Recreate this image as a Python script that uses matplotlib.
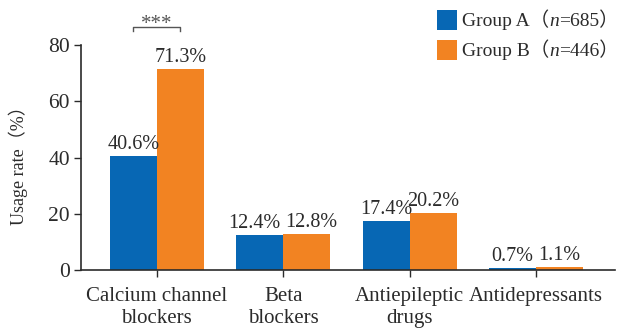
import matplotlib
matplotlib.use("Agg")
import matplotlib.pyplot as plt
import numpy as np
from matplotlib.offsetbox import HPacker, TextArea, DrawingArea, AnchoredOffsetbox
from matplotlib.patches import Rectangle

categories = ["Calcium channel\nblockers", "Beta\nblockers", "Antiepileptic\ndrugs", "Antidepressants"]
group_a = [40.6, 12.4, 17.4, 0.7]
group_b = [71.3, 12.8, 20.2, 1.1]
series_names = ["Group A", "Group B"]
series_n = [685, 446]
yticks = [0, 20, 40, 60, 80]
sig_label = "***"

FAM = ["Liberation Serif", "Noto Sans CJK SC"]
plt.rcParams["font.family"] = FAM
TXT = "#2b2b2b"
BLUE = "#0767B4"
ORANGE = "#F28322"

fig = plt.figure(figsize=(6.26, 3.33), dpi=100)
ax = fig.add_axes([0.1294, 0.189, 0.853, 0.676])

x = np.arange(len(categories))
w = 0.372
ba = ax.bar(x - w / 2, group_a, w, color=BLUE)
bb = ax.bar(x + w / 2, group_b, w, color=ORANGE)

# labels of neighbouring bars with nearly equal heights get nudged apart slightly
for si, (bars, vals, other) in enumerate(((ba, group_a, group_b), (bb, group_b, group_a))):
    for r, v, o in zip(bars, vals, other):
        dx = 0.0
        if abs(v - o) < 1.5 and v > 5:
            dx = -4.0 if si == 0 else 3.5
        ax.annotate(f"{v:.1f}%", xy=(r.get_x() + r.get_width() / 2, v), xytext=(dx, 1.5),
                    textcoords="offset points", ha="center", va="bottom",
                    fontsize=14.5, color=TXT, annotation_clip=False)

ax.set_xlim(-0.6, len(categories) - 1 + 0.625)
ax.set_ylim(0, 80)
ax.set_yticks(yticks)
ax.set_xticks(x)
ax.set_xticklabels(categories, fontsize=15, color=TXT, linespacing=1.2)
ax.tick_params(axis="y", labelsize=15.5, colors=TXT, length=5, width=1, pad=3)
ax.tick_params(axis="x", colors=TXT, length=5, width=1, pad=7)
for s in ("top", "right"):
    ax.spines[s].set_visible(False)
for s in ("left", "bottom"):
    ax.spines[s].set_color(TXT)
    ax.spines[s].set_linewidth(1.2)

ax.set_ylabel("Usage rate（%）", fontsize=13, color=TXT)
ax.yaxis.set_label_coords(-0.099, 0.484)

# significance bracket
x0, x1 = x[0] - w / 2, x[0] + w / 2
ax.plot([x0, x0, x1, x1], [85.0, 86.5, 86.5, 85.0], color="#555555", lw=1, clip_on=False)
ax.text((x0 + x1) / 2, 85.8, sig_label, ha="center", va="baseline", fontsize=15, color="#555555", clip_on=False)

# legend (manual, with italic n)
for i, (name, n, col) in enumerate(zip(series_names, series_n, (BLUE, ORANGE))):
    da = DrawingArea(14.4, 14.4, 0, 0)
    da.add_artist(Rectangle((0, 0), 14.4, 14.4, fc=col, ec="none"))
    t1 = TextArea(f"{name}（", textprops=dict(fontsize=14, color=TXT, family=FAM))
    t2 = TextArea("n", textprops=dict(fontsize=14, color=TXT, family=FAM, style="italic"))
    t3 = TextArea(f"={n}）", textprops=dict(fontsize=14, color=TXT, family=FAM))
    txt = HPacker(children=[t1, t2, t3], align="baseline", pad=0, sep=0)
    row = HPacker(children=[da, txt], align="center", pad=0, sep=3.6)
    yc = 20 + 30 * i
    anch = AnchoredOffsetbox(loc="center left", child=row, frameon=False,
                             bbox_to_anchor=(437 / 626, 1 - yc / 333), bbox_transform=fig.transFigure,
                             borderpad=0, pad=0)
    fig.add_artist(anch)

fig.savefig("out.png", dpi=100)
